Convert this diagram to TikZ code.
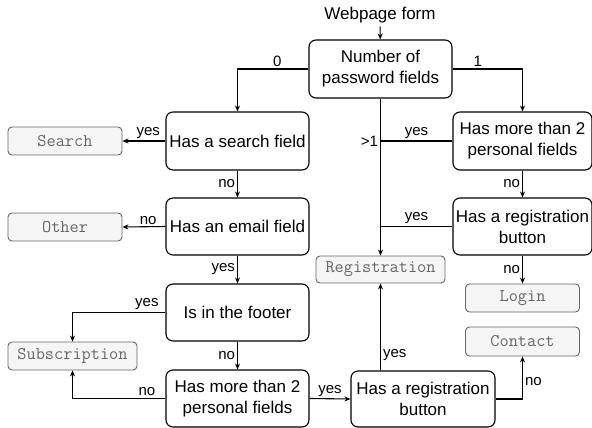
\documentclass[tikz,border=0pt]{standalone}
\usepackage{fontspec}
\setmainfont{Liberation Sans}
\usepackage{tikz}
\usetikzlibrary{arrows.meta, positioning, calc}
\definecolor{leafbg}{HTML}{F5F5F5}
\definecolor{leafline}{HTML}{666666}
\tikzset{
  decision/.style={draw=black, line width=1.1pt, fill=white, rounded corners=7pt, align=center,
    minimum width=143pt, minimum height=58pt, inner sep=2pt, font=\fontsize{17}{21}\selectfont},
  leaf/.style={draw=leafline, line width=0.9pt, fill=leafbg, rounded corners=4pt, text=leafline,
    minimum width=114pt, minimum height=28pt, inner sep=1pt, font=\ttfamily\fontsize{17.8}{20}\selectfont},
  arr/.style={line width=1.1pt, -{Stealth[length=6pt, width=5pt, inset=2pt]}},
  link/.style={line width=1.1pt},
  lbl/.style={font=\fontsize{15}{17}\selectfont, inner sep=2pt}
}
\begin{document}
\begin{tikzpicture}[x=1pt, y=-1pt]
    \useasboundingbox (0,0) rectangle (592,428);
    % Start
    \node[font=\fontsize{17}{21}\selectfont] (form) at (380,15) {Webpage form};
    \node[decision] (num) at (380.5,69) {Number of\\password fields};
    % Left branch
    \node[decision] (search) at (237.5,141) {Has a search field};
    \node[decision, minimum height=57pt] (email) at (237.5,226.5) {Has an email field};
    \node[decision, minimum height=57pt] (footer) at (237.5,312.5) {Is in the footer};
    \node[decision, minimum height=57pt] (pers) at (237.5,398.5) {Has more than 2\\personal fields};
    \node[decision, minimum width=144pt, minimum height=56pt] (regb2) at (423,399) {Has a registration\\button};
    % Right branch
    \node[decision, minimum width=139pt] (more2) at (522.5,141) {Has more than 2\\personal fields};
    \node[decision, minimum width=139pt, minimum height=57pt] (regb) at (522.5,226.5) {Has a registration\\button};
    % Leaves
    \node[leaf] (searchL) at (65,141) {Search};
    \node[leaf] (otherL) at (65,227) {Other};
    \node[leaf, minimum width=129pt] (subL) at (72.5,356) {Subscription};
    \node[leaf, minimum width=129pt, minimum height=27pt] (regL) at (380.5,269.5) {Registration};
    \node[leaf] (loginL) at (522.5,298) {Login};
    \node[leaf, minimum height=29pt] (contactL) at (522.5,341.5) {Contact};
    % Connectors
    \draw[arr] (form) -- (num);
    \draw[arr] (num.west) -| (search.north) node[lbl, pos=0.22, above] {0};
    \draw[arr] (num.east) -| (more2.north) node[lbl, pos=0.18, above] {1};
    \draw[arr] (num.south) -- (regL.north) node[lbl, pos=0.27, left] {>1};
    \draw[link] (more2.west) -- (more2.west -| regL.north) node[lbl, midway, above] {yes};
    \draw[link] (regb.west) -- (regb.west -| regL.north) node[lbl, midway, above] {yes};
    \draw[arr] (more2.south) -- (regb.north) node[lbl, midway, left] {no};
    \draw[arr] (regb.south) -- (loginL.north) node[lbl, midway, left] {no};
    \draw[arr] (search.west) -- (searchL.east) node[lbl, pos=0.4, above] {yes};
    \draw[arr] (search.south) -- (email.north) node[lbl, midway, left] {no};
    \draw[arr] (email.west) -- (otherL.east) node[lbl, pos=0.4, above] {no};
    \draw[arr] (email.south) -- (footer.north) node[lbl, midway, left] {yes};
    \draw[arr] (footer.west) -| (subL.north) node[lbl, pos=0.1, above] {yes};
    \draw[arr] (footer.south) -- (pers.north) node[lbl, midway, left] {no};
    \draw[arr] (pers.west) -| (subL.south) node[lbl, pos=0.1, above] {no};
    \draw[arr] (pers.east) -- (regb2.west) node[lbl, midway, above] {yes};
    \draw[arr] (regb2.north -| regL.south) -- (regL.south) node[lbl, pos=0.18, right] {yes};
    \draw[arr] (regb2.east) -| (contactL.south) node[lbl, pos=0.7, right] {no};
\end{tikzpicture}
\end{document}
